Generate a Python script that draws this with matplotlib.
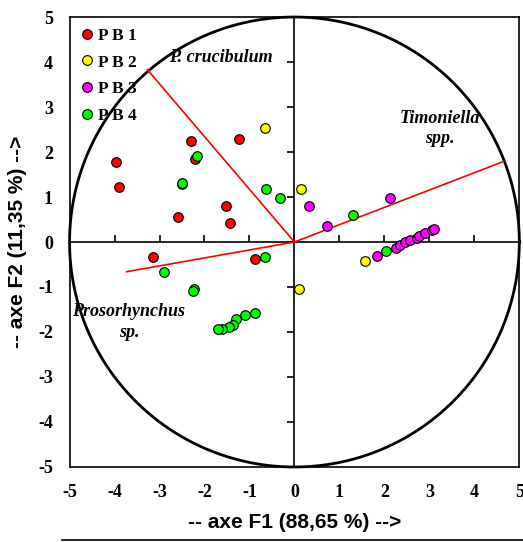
import numpy as np
import matplotlib
matplotlib.use("Agg")
import matplotlib.pyplot as plt
from matplotlib.lines import Line2D

# PCA scores (F1, F2) for the four sampling groups
pb1_x = [-3.97, -3.89, -2.30, -2.22, -1.23, -2.50, -2.60, -1.52, -1.44, -3.15, -0.88]
pb1_y = [1.77, 1.23, 2.24, 1.85, 2.28, 1.28, 0.56, 0.81, 0.43, -0.33, -0.38]

pb2_x = [-0.66, 0.15, 1.57, 0.10]
pb2_y = [2.54, 1.18, -0.42, -1.04]

pb3_x = [0.32, 0.72, 2.12, 1.83, 2.26, 2.34, 2.46, 2.56, 2.72, 2.77, 2.90, 3.05, 3.11]
pb3_y = [0.81, 0.35, 0.98, -0.30, -0.13, -0.07, 0.01, 0.05, 0.10, 0.13, 0.19, 0.27, 0.30]

pb4_x = [-2.17, -2.50, -0.63, -0.33, -0.66, -2.89, -2.23, -2.26, -0.88, -1.09,
         -1.31, -1.37, -1.45, -1.61, -1.71, 1.31, 2.03]
pb4_y = [1.91, 1.32, 1.18, 0.98, -0.33, -0.66, -1.05, -1.10, -1.58, -1.63,
         -1.72, -1.84, -1.89, -1.93, -1.93, 0.60, -0.20]

groups = ["P B 1", "P B 2", "P B 3", "P B 4"]
colors = ["#ff0000", "#ffff00", "#ff00ff", "#00ff00"]

# parasite variable vectors
vec_names = ["P. crucibulum", "Timoniella\nspp.", "Prosorhynchus\nsp."]
vec_x = [-3.27, 4.65, -3.73]
vec_y = [3.83, 1.79, -0.66]
lab_x = [-1.63, 3.23, -3.68]
lab_y = [4.11, 2.52, -1.78]

ticks = [-5, -4, -3, -2, -1, 0, 1, 2, 3, 4, 5]

plt.rcParams["axes.unicode_minus"] = False

fig = plt.figure(figsize=(5.23, 5.42), dpi=100)
ax = fig.add_axes([0.133, 0.1384, 0.860, 0.8302])
ax.set_xlim(-5, 5)
ax.set_ylim(-5, 5)

serif = "Liberation Serif"
sans = "Liberation Sans"

# correlation circle and central axes
theta = np.linspace(0, 2 * np.pi, 400)
ax.plot(5 * np.cos(theta), 5 * np.sin(theta), color="black", lw=2, zorder=1, clip_on=False)
ax.axhline(0, color="black", lw=1.2, zorder=1)
ax.axvline(0, color="black", lw=1.2, zorder=1)
ax.plot(ticks, [0] * len(ticks), ls="none", marker=2, ms=5, mew=1.2, color="black", zorder=1)
ax.plot([0] * len(ticks), ticks, ls="none", marker=0, ms=5, mew=1.2, color="black", zorder=1)

for vx, vy in zip(vec_x, vec_y):
    ax.plot([0, vx], [0, vy], color="red", lw=1.2, zorder=2)

for name, tx, ty in zip(vec_names, lab_x, lab_y):
    ax.text(tx, ty, name, ha="center", va="center", fontsize=13, family=serif,
            style="italic", weight="bold", linespacing=1.25, zorder=3)

data = [(pb1_x, pb1_y), (pb2_x, pb2_y), (pb3_x, pb3_y), (pb4_x, pb4_y)]
for (xs, ys), c in zip(data, colors):
    ax.scatter(xs, ys, s=48, c=c, edgecolors="black", linewidths=0.8, zorder=4)

handles = [Line2D([], [], ls="none", marker="o", ms=7, mfc=c, mec="black", mew=0.8)
           for c in colors]
ax.legend(handles, groups, loc="upper left", frameon=False,
          bbox_to_anchor=(0.0, 0.996), borderaxespad=0.1, handlelength=1.0,
          handletextpad=0.15, labelspacing=0.62,
          prop={"family": serif, "weight": "bold", "size": 12.5})

ax.set_xticks(ticks)
ax.set_yticks(ticks)
ax.tick_params(length=0, labelsize=13)
ax.tick_params(axis="x", pad=12)
ax.tick_params(axis="y", pad=12)
for lbl in ax.get_xticklabels() + ax.get_yticklabels():
    lbl.set_family(serif)
    lbl.set_weight("bold")
for sp in ax.spines.values():
    sp.set_linewidth(1.2)

ax.set_xlabel("-- axe F1 (88,65 %) -->", family=sans, weight="bold", fontsize=15, labelpad=9)
ax.set_ylabel("-- axe F2 (11,35 %) -->", family=sans, weight="bold", fontsize=15, labelpad=8)

# rule under the figure
fig.add_artist(Line2D([62 / 523, 1.0], [1 - 540 / 542, 1 - 540 / 542], color="black", lw=1.2))

fig.savefig("out.png", dpi=100)
